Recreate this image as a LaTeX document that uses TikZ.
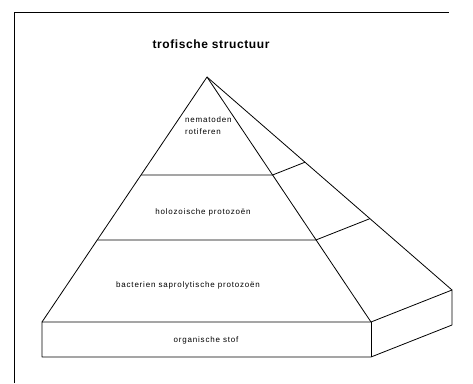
\documentclass[tikz,border=0pt]{standalone}
\usepackage{fontspec}
\setmainfont{Liberation Sans}
\usetikzlibrary{calc}
\tikzset{
  edge/.style={draw=black,line width=0.8pt,line join=round},
  frame/.style={draw=black,line width=0.7pt},
  lbl/.style={inner sep=0pt,font=\fontsize{8}{9}\selectfont\addfontfeatures{LetterSpace=10}},
  ttl/.style={inner sep=0pt,font=\fontsize{12}{14}\selectfont\bfseries\addfontfeatures{LetterSpace=5}}
}
\begin{document}
\begin{tikzpicture}[x=1pt,y=-1pt]
\useasboundingbox (0,0) rectangle (473,383);
% frame
\coordinate (F0) at (14,383);
\coordinate (F1) at (14,12);
\coordinate (F2) at (449,12);
\draw[frame] (F0) -- (F1) -- (F2);
% pyramid points
\coordinate (A) at (207,77);
\coordinate (BL) at (42,322);
\coordinate (BR) at (371,322);
\coordinate (BB) at (452,290);
\coordinate (L1) at ($(A)!0.4!(BL)$);
\coordinate (R1) at ($(A)!0.4!(BR)$);
\coordinate (S1) at ($(A)!0.4!(BB)$);
\coordinate (L2) at ($(A)!0.665!(BL)$);
\coordinate (R2) at ($(A)!0.665!(BR)$);
\coordinate (S2) at ($(A)!0.665!(BB)$);
% slab bottom points
\coordinate (CL) at (42,357);
\coordinate (CR) at (371,357);
\coordinate (CB) at (452,325);
% pyramid
\draw[edge] (BL) -- (A) -- (BR);
\draw[edge] (A) -- (BB);
\draw[edge] (L1) -- (R1) -- (S1);
\draw[edge] (L2) -- (R2) -- (S2);
% slab
\draw[edge] (BL) -- (BR) -- (BB) -- (CB) -- (CR) -- (CL) -- cycle;
\draw[edge] (BR) -- (CR);
% texts
\node[ttl] (title) at (211,44) {trofische structuur};
\node[lbl,anchor=west] (nem) at (185,120) {nematoden};
\node[lbl,anchor=west] (rot) at (185,132) {rotiferen};
\node[lbl] (holo) at (203,212) {holozoische protozoën};
\node[lbl] (bact) at (188,285) {bacterien saprolytische protozoën};
\node[lbl] (org) at (206,340) {organische stof};
\end{tikzpicture}
\end{document}
